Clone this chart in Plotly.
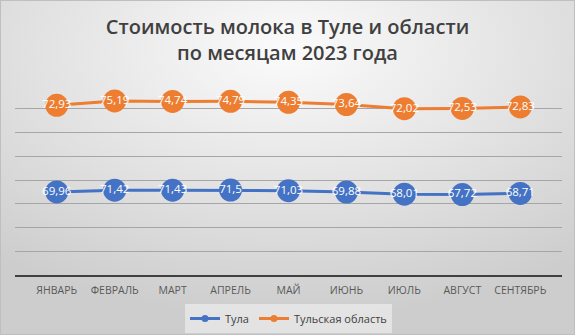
import base64
import plotly.graph_objects as go

months = ["ЯНВАРЬ", "ФЕВРАЛЬ", "МАРТ", "АПРЕЛЬ", "МАЙ", "ИЮНЬ", "ИЮЛЬ", "АВГУСТ", "СЕНТЯБРЬ"]
tula = [69.96, 71.42, 71.43, 71.5, 71.03, 69.88, 68.01, 67.72, 68.71]
oblast = [72.93, 75.19, 74.74, 74.79, 74.35, 73.64, 72.02, 72.53, 72.83]
series_names = ["Тула", "Тульская область"]
colors = ["#4472C4", "#ED7D31"]


def fmt(v):
    return ("%g" % v).replace(".", ",")


svg = """<svg xmlns='http://www.w3.org/2000/svg' width='575' height='335'>
<defs><radialGradient id='g' cx='50%' cy='15%' r='80%'>
<stop offset='0%' stop-color='#fbfbfb'/><stop offset='100%' stop-color='#cdcdcd'/>
</radialGradient></defs>
<rect width='575' height='335' fill='url(#g)' stroke='#bfbfbf' stroke-width='2'/></svg>"""
bg = "data:image/svg+xml;base64," + base64.b64encode(svg.encode()).decode()

fig = go.Figure()
for name, vals, col in zip(series_names, [tula, oblast], colors):
    fig.add_trace(go.Scatter(
        x=months, y=vals, name=name, stackgroup="one", fill="none",
        mode="lines+markers+text", showlegend=False,
        line=dict(color=col, width=3),
        marker=dict(color=col, size=23),
        text=[fmt(v) for v in vals], textposition="middle center",
        textfont=dict(color="white", size=11.5, family="Open Sans"),
    ))
for name, col in zip(series_names, colors):
    fig.add_trace(go.Scatter(
        x=[None], y=[None], name=name, mode="lines+markers",
        line=dict(color=col, width=3), marker=dict(color=col, size=7),
    ))

fig.update_layout(
    width=575, height=335,
    margin=dict(l=15, r=13, t=85, b=60, autoexpand=False),
    paper_bgcolor="#d9d9d9", plot_bgcolor="rgba(0,0,0,0)",
    images=[dict(source=bg, xref="paper", yref="paper", x=-15/547, y=1 + 85/190,
                 sizex=575/547, sizey=335/190, sizing="stretch", layer="below",
                 xanchor="left", yanchor="top")],
    title=dict(text="Стоимость молока в Туле и области<br>по месяцам 2023 года",
               x=0.5, xanchor="center", y=1 - 34/335, yanchor="middle",
               font=dict(family="Open Sans", size=20, weight=600, color="#404040")),
    showlegend=True,
    legend=dict(orientation="h", x=0.5, xanchor="center", yref="container",
                y=1 - 304/335, yanchor="top",
                bgcolor="rgba(245,245,245,0.55)",
                font=dict(family="Open Sans", size=11, color="#404040")),
    xaxis=dict(showgrid=False, showline=True, linecolor="#404040", linewidth=2,
               ticklabelstandoff=4, automargin=False,
               tickfont=dict(family="Open Sans", size=10.5, color="#595959"), ticks=""),
    yaxis=dict(range=[0, 160], dtick=20, showticklabels=False, gridcolor="#a6a6a6",
               gridwidth=1, zeroline=False, automargin=False),
)

fig.write_html("out.html")
